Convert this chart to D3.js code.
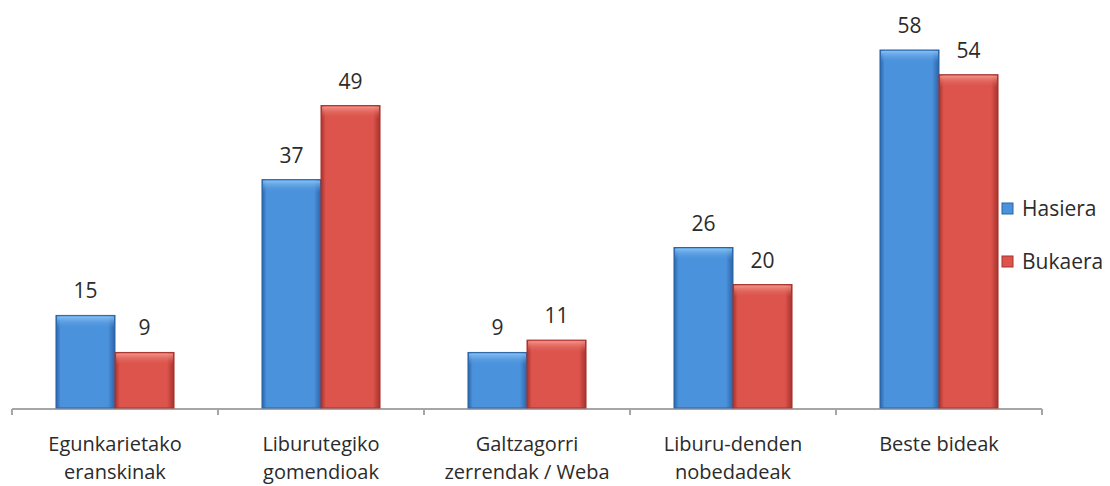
<!DOCTYPE html>
<html>
<head>
<meta charset="utf-8">
<script src="https://cdn.jsdelivr.net/npm/d3@7"></script>
<style>
  body { margin: 0; background: #fff; }
  text { font-family: "Open Sans", sans-serif; fill: #2b2b2b; }
</style>
</head>
<body>
<div id="chart"></div>
<script>
var categories = [
  ["Egunkarietako", "eranskinak"],
  ["Liburutegiko", "gomendioak"],
  ["Galtzagorri", "zerrendak / Weba"],
  ["Liburu-denden", "nobedadeak"],
  ["Beste bideak"]
];
var seriesNames = ["Hasiera", "Bukaera"];
var hasiera = [15, 37, 9, 26, 58];
var bukaera = [9, 49, 11, 20, 54];

var width = 1110, height = 486;
var colors = { Hasiera: "#4b92dc", Bukaera: "#dc544c" };
var dark = { Hasiera: "#2a64a8", Bukaera: "#a8322c" };
var light = { Hasiera: "#8cc4f4", Bukaera: "#f49a90" };

var svg = d3.select("#chart").append("svg")
  .attr("width", width)
  .attr("height", height);

var defs = svg.append("defs");
seriesNames.forEach(function(s) {
  var g = defs.append("linearGradient").attr("id", "grad-" + s)
    .attr("x1", 0).attr("x2", 1).attr("y1", 0).attr("y2", 0);
  g.append("stop").attr("offset", "0%").attr("stop-color", dark[s]);
  g.append("stop").attr("offset", "8%").attr("stop-color", colors[s]);
  g.append("stop").attr("offset", "88%").attr("stop-color", colors[s]);
  g.append("stop").attr("offset", "100%").attr("stop-color", dark[s]);
  var t = defs.append("linearGradient").attr("id", "top-" + s)
    .attr("x1", 0).attr("x2", 0).attr("y1", 0).attr("y2", 1);
  t.append("stop").attr("offset", "0%").attr("stop-color", light[s]).attr("stop-opacity", 0.9);
  t.append("stop").attr("offset", "100%").attr("stop-color", colors[s]).attr("stop-opacity", 0);
});

var x0 = d3.scaleBand()
  .domain(d3.range(categories.length))
  .range([12, 1042])
  .paddingInner(0)
  .paddingOuter(0);

// padding in units of the bar width: 2 bars of ~59px in a 206px band
var x1 = d3.scaleBand()
  .domain(seriesNames)
  .range([0, x0.bandwidth()])
  .paddingInner(0)
  .paddingOuter(0.745);

var y = d3.scaleLinear()
  .domain([0, 58])
  .range([408, 50]);

var data = categories.map(function(c, i) {
  return { i: i, values: [
    { key: "Hasiera", value: hasiera[i] },
    { key: "Bukaera", value: bukaera[i] }
  ]};
});

// axis line
svg.append("line")
  .attr("x1", x0.range()[0]).attr("x2", x0.range()[1])
  .attr("y1", 409).attr("y2", 409)
  .attr("stroke", "#a6a6a6").attr("stroke-width", 2);

var tickPos = d3.range(categories.length + 1).map(function(i) {
  return i < categories.length ? x0(i) : x0(i - 1) + x0.bandwidth();
});
svg.selectAll(".tk").data(tickPos).enter().append("line")
  .attr("x1", d => d).attr("x2", d => d)
  .attr("y1", 409).attr("y2", 415)
  .attr("stroke", "#a6a6a6").attr("stroke-width", 2);

var groups = svg.selectAll(".grp").data(data).enter().append("g")
  .attr("transform", d => "translate(" + x0(d.i) + ",0)");

var bars = groups.selectAll(".bar").data(d => d.values).enter().append("g");

bars.append("rect")
  .attr("x", d => x1(d.key))
  .attr("y", d => y(d.value))
  .attr("width", x1.bandwidth())
  .attr("height", d => y(0) - y(d.value))
  .attr("fill", d => "url(#grad-" + d.key + ")")
  .attr("stroke", d => dark[d.key])
  .attr("stroke-width", 1);

bars.append("rect")
  .attr("x", d => x1(d.key) + 1)
  .attr("y", d => y(d.value) + 1)
  .attr("width", x1.bandwidth() - 2)
  .attr("height", 12)
  .attr("fill", d => "url(#top-" + d.key + ")");

bars.append("text")
  .attr("x", d => x1(d.key) + x1.bandwidth() / 2)
  .attr("y", d => y(d.value) - 17)
  .attr("text-anchor", "middle")
  .style("font-size", "21px")
  .text(d => d.value);

// category labels
svg.selectAll(".cat").data(categories).enter().append("text")
  .attr("x", (d, i) => x0(i) + x0.bandwidth() / 2)
  .attr("y", 451)
  .attr("text-anchor", "middle")
  .style("font-size", "20px")
  .each(function(d) {
    var t = d3.select(this);
    d.forEach(function(line, k) {
      t.append("tspan").attr("x", t.attr("x")).attr("dy", k === 0 ? 0 : 28).text(line);
    });
  });

// legend
var legend = svg.selectAll(".leg").data(seriesNames).enter().append("g")
  .attr("transform", (d, i) => "translate(1002," + (203 + i * 53) + ")");
legend.append("rect")
  .attr("width", 11).attr("height", 11)
  .attr("fill", d => colors[d])
  .attr("stroke", d => dark[d]);
legend.append("text")
  .attr("x", 20).attr("y", 13)
  .style("font-size", "21px")
  .text(d => d);
</script>
</body>
</html>
